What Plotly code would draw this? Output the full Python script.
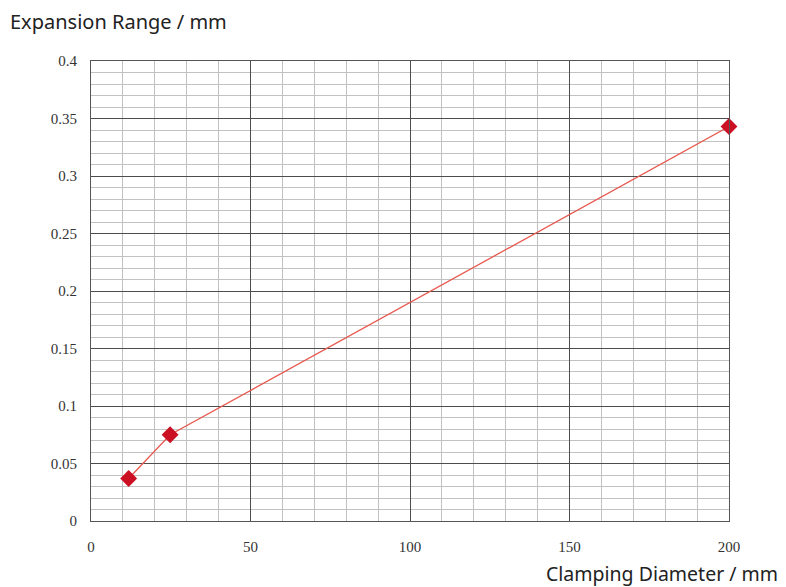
import plotly.graph_objects as go

clamping_diameter = [11.8, 24.8, 200]
expansion_range = [0.037, 0.075, 0.343]

fig = go.Figure()
fig.add_trace(go.Scatter(
    x=clamping_diameter, y=expansion_range, mode="lines+markers",
    line=dict(color="#e8584f", width=1.3),
    marker=dict(symbol="diamond", size=13, color="#cc1024"),
    cliponaxis=False, showlegend=False,
))

tickfont = dict(family="Liberation Serif, DejaVu Serif, serif", size=15, color="#333")
fig.update_xaxes(
    range=[0, 200], dtick=50, tick0=0, showgrid=True, gridcolor="#4d4d4d", gridwidth=1,
    minor=dict(dtick=10, showgrid=True, gridcolor="#c2c2c2", gridwidth=1),
    showline=True, linecolor="#555", linewidth=1, mirror=True,
    zeroline=False, ticks="", tickfont=tickfont, ticklabelstandoff=12,
)
fig.update_yaxes(
    range=[0, 0.4], dtick=0.05, tick0=0, showgrid=True, gridcolor="#4d4d4d", gridwidth=1,
    minor=dict(dtick=0.01, showgrid=True, gridcolor="#c2c2c2", gridwidth=1),
    showline=True, linecolor="#555", linewidth=1, mirror=True,
    zeroline=False, ticks="", tickfont=tickfont, ticklabelstandoff=10,
)

fig.update_layout(
    width=778, height=579,
    margin=dict(l=83, r=57, t=53, b=66),
    plot_bgcolor="white", paper_bgcolor="white",
    annotations=[
        dict(text="Expansion Range / mm", xref="paper", yref="paper",
             x=-83/638, y=1 + 40/460, xanchor="left", yanchor="middle",
             showarrow=False,
             font=dict(family="Noto Sans, Open Sans, sans-serif", size=20, color="#222")),
        dict(text="Clamping Diameter / mm", xref="paper", yref="paper",
             x=1 + 51/638, y=-52/460, xanchor="right", yanchor="middle",
             showarrow=False,
             font=dict(family="Noto Sans, Open Sans, sans-serif", size=19.5, color="#222")),
    ],
)

fig.write_html("out.html")
